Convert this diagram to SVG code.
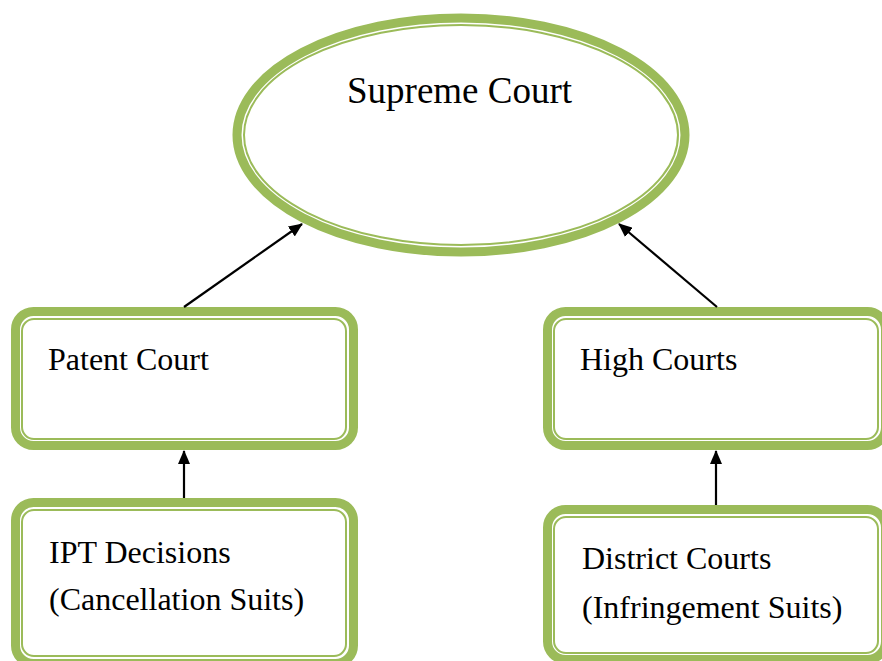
<svg xmlns="http://www.w3.org/2000/svg" width="882" height="661" viewBox="0 0 882 661">
<style>
.thick{fill:#fff;stroke:#9BBB59;stroke-width:9}
.thin{fill:none;stroke:#9BBB59;stroke-width:2}
.t{font-family:"Liberation Serif","Times New Roman",serif;font-size:32px;fill:#000}
.big{font-size:37px}
.c{stroke:#000;stroke-width:2.2;fill:none;marker-end:url(#ah)}
</style>
<defs>
<marker id="ah" viewBox="0 0 14 12" refX="13" refY="6" markerWidth="14" markerHeight="12" markerUnits="userSpaceOnUse" orient="auto">
<path d="M0,0 L14,6 L0,12 z" fill="#000"/>
</marker>
</defs>
<rect width="882" height="661" fill="#fff"/>
<g id="supreme">
<ellipse class="thick" cx="461" cy="135" rx="224" ry="117"/>
<ellipse class="thin" cx="461" cy="135" rx="217" ry="110"/>
<text class="t big" x="347" y="103">Supreme Court</text>
</g>
<g id="patent">
<rect class="thick" x="15.5" y="311.5" width="338" height="134" rx="18"/>
<rect class="thin" x="22" y="319" width="324" height="120" rx="12"/>
<text class="t" x="48" y="370">Patent Court</text>
</g>
<g id="high">
<rect class="thick" x="547.5" y="311.5" width="338" height="134" rx="18"/>
<rect class="thin" x="554" y="319" width="324" height="120" rx="12"/>
<text class="t" x="580" y="370">High Courts</text>
</g>
<g id="ipt">
<rect class="thick" x="15.5" y="502.5" width="338" height="161" rx="18"/>
<rect class="thin" x="22" y="510" width="324" height="146" rx="12"/>
<text class="t" x="49" y="563">IPT Decisions</text>
<text class="t" x="49" y="610">(Cancellation Suits)</text>
</g>
<g id="district">
<rect class="thick" x="547.5" y="509.5" width="338" height="150" rx="18"/>
<rect class="thin" x="554" y="517" width="324" height="136" rx="12"/>
<text class="t" x="582" y="569">District Courts</text>
<text class="t" x="582" y="618">(Infringement Suits)</text>
</g>
<g id="connectors">
<line class="c" x1="184" y1="307" x2="302" y2="224"/>
<line class="c" x1="717" y1="307" x2="619" y2="224"/>
<line class="c" x1="184" y1="498" x2="184" y2="451"/>
<line class="c" x1="716" y1="505" x2="716" y2="451"/>
</g>
</svg>
